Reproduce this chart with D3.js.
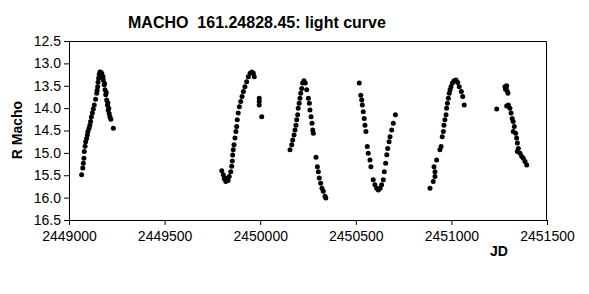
<!DOCTYPE html>
<html>
<head>
<meta charset="utf-8">
<script src="https://cdn.jsdelivr.net/npm/d3@7"></script>
<style>
	body { margin: 0; background: #fff; }
	svg { font-family: "Liberation Sans", Arial, sans-serif; }
</style>
</head>
<body>
<div id="chart"></div>
<script>
const chartTitle = 'MACHO  161.24828.45: light curve';
const xTicks = [2449000, 2449500, 2450000, 2450500, 2451000, 2451500];
const yTicks = [12.5, 13.0, 13.5, 14.0, 14.5, 15.0, 15.5, 16.0, 16.5];

// [JD, R mag], one array per observing season
const season1 = [
	[2449066, 15.49], [2449072, 15.34], [2449075, 15.23], [2449078, 15.12], [2449080, 14.97],
	[2449084, 14.85], [2449087, 14.75], [2449092, 14.68], [2449096, 14.60], [2449099, 14.52],
	[2449105, 14.45], [2449109, 14.38], [2449113, 14.30], [2449117, 14.20], [2449122, 14.11],
	[2449127, 14.02], [2449132, 13.93], [2449139, 13.80], [2449145, 13.67], [2449147, 13.60],
	[2449150, 13.52], [2449152, 13.42], [2449155, 13.33], [2449158, 13.25], [2449162, 13.19],
	[2449166, 13.20], [2449171, 13.22], [2449175, 13.28], [2449179, 13.37], [2449184, 13.48],
	[2449188, 13.59], [2449192, 13.70], [2449197, 13.82], [2449201, 13.93], [2449205, 14.04],
	[2449210, 14.12], [2449214, 14.19], [2449219, 14.25], [2449232, 14.45],
	[2449178, 13.30], [2449186, 13.45], [2449195, 13.65], [2449203, 13.88], [2449208, 14.00]
];
const season2 = [
	[2449799, 15.40], [2449807, 15.49], [2449812, 15.58], [2449816, 15.56], [2449820, 15.64],
	[2449825, 15.62], [2449828, 15.60], [2449832, 15.62], [2449838, 15.53], [2449846, 15.42],
	[2449851, 15.30], [2449854, 15.18], [2449856, 15.05], [2449859, 14.93], [2449863, 14.82],
	[2449868, 14.67], [2449873, 14.52], [2449877, 14.41], [2449880, 14.26], [2449885, 14.11],
	[2449891, 13.97], [2449898, 13.85], [2449905, 13.74], [2449912, 13.63], [2449920, 13.52],
	[2449929, 13.41], [2449938, 13.30], [2449947, 13.22], [2449956, 13.19], [2449964, 13.22],
	[2449969, 13.30], [2449995, 13.78], [2449995, 13.85], [2449995, 13.93], [2450008, 14.19]
];
const season3 = [
	[2450156, 14.93], [2450165, 14.82], [2450170, 14.71], [2450177, 14.60], [2450182, 14.49],
	[2450187, 14.38], [2450191, 14.26], [2450196, 14.15], [2450199, 14.00], [2450204, 13.89],
	[2450208, 13.78], [2450212, 13.67], [2450217, 13.56], [2450222, 13.44], [2450229, 13.39],
	[2450236, 13.44], [2450243, 13.59], [2450252, 13.78], [2450257, 13.89], [2450260, 14.04],
	[2450266, 14.19], [2450271, 14.34], [2450275, 14.49], [2450278, 14.56],
	[2450292, 15.10], [2450299, 15.31], [2450304, 15.42], [2450309, 15.56], [2450316, 15.68],
	[2450323, 15.79], [2450330, 15.86], [2450339, 15.97], [2450343, 16.01]
];
const season4 = [
	[2450518, 13.44], [2450526, 13.71], [2450531, 13.82], [2450534, 13.93], [2450539, 14.08],
	[2450544, 14.23], [2450548, 14.38], [2450553, 14.52], [2450560, 14.86], [2450565, 15.01],
	[2450574, 15.16], [2450579, 15.31], [2450591, 15.60], [2450600, 15.71], [2450609, 15.79],
	[2450618, 15.83], [2450627, 15.79], [2450635, 15.71], [2450644, 15.60], [2450649, 15.42],
	[2450656, 15.23], [2450662, 15.04], [2450667, 14.90], [2450674, 14.75], [2450679, 14.64],
	[2450688, 14.49], [2450696, 14.34], [2450707, 14.15]
];
const season5 = [
	[2450888, 15.79], [2450905, 15.64], [2450909, 15.31], [2450914, 15.53], [2450914, 15.42],
	[2450923, 15.16], [2450940, 14.93], [2450946, 14.86], [2450952, 14.64], [2450958, 14.52],
	[2450961, 14.38], [2450966, 14.26], [2450972, 14.15], [2450975, 14.00], [2450979, 13.89],
	[2450984, 13.78], [2450989, 13.67], [2450993, 13.59], [2450998, 13.52], [2451005, 13.44],
	[2451014, 13.39], [2451024, 13.37], [2451033, 13.43], [2451041, 13.52], [2451052, 13.63],
	[2451059, 13.74], [2451067, 13.93]
];
const season6 = [
	[2451237, 14.02], [2451280, 13.52], [2451283, 13.58], [2451286, 13.56], [2451289, 13.50],
	[2451292, 13.62], [2451296, 13.67], [2451289, 13.95], [2451298, 13.93], [2451306, 14.00],
	[2451312, 14.11], [2451318, 14.23], [2451323, 14.30], [2451329, 14.41], [2451323, 14.52],
	[2451336, 14.56], [2451341, 14.67], [2451345, 14.78], [2451350, 14.90], [2451345, 14.97],
	[2451359, 15.01], [2451368, 15.08], [2451376, 15.12], [2451385, 15.19], [2451394, 15.27]
];
const points = [season1, season2, season3, season4, season5, season6].flat();

const W = 589, H = 294;
const margin = { top: 41, right: 42, bottom: 74, left: 69 },
	width = W - margin.left - margin.right,
	height = H - margin.top - margin.bottom;

const svg = d3.select('#chart')
	.append('svg')
	.attr('width', W)
	.attr('height', H);

const g = svg.append('g')
	.attr('transform', 'translate(' + margin.left + ',' + margin.top + ')');

const x = d3.scaleLinear()
	.domain([2449000, 2451500])
	.range([0, width]);

const y = d3.scaleLinear()
	.domain([12.5, 16.5])
	.range([0, height]);

// plot frame (top and right)
g.append('path')
	.attr('d', `M0,0.5H${width - 0.5}V${height}`)
	.attr('fill', 'none')
	.attr('stroke', '#000')
	.attr('stroke-width', 1);

// x axis
const xAxis = g.append('g')
	.attr('transform', 'translate(0,' + height + ')')
	.call(d3.axisBottom(x).tickValues(xTicks).tickFormat(d3.format('d')).tickSizeOuter(0).tickSize(5).tickPadding(6));

// y axis
const yAxis = g.append('g')
	.call(d3.axisLeft(y).tickValues(yTicks).tickFormat(d3.format('.1f')).tickSizeOuter(0).tickSize(5).tickPadding(3));

[xAxis, yAxis].forEach(a => {
	a.selectAll('text').attr('font-size', 14).attr('fill', '#000')
		.attr('font-family', '"Liberation Sans", Arial, sans-serif');
	a.selectAll('line, path').attr('stroke', '#000');
});

// points
g.append('g')
	.selectAll('circle')
	.data(points)
	.join('circle')
	.attr('cx', d => x(d[0]))
	.attr('cy', d => y(d[1]))
	.attr('r', 2.5)
	.attr('fill', '#000');

// titles
svg.append('text')
	.attr('x', 128)
	.attr('y', 28)
	.attr('font-size', 16)
	.attr('font-weight', 'bold')
	.style('white-space', 'pre')
	.attr('xml:space', 'preserve')
	.text(chartTitle);

svg.append('text')
	.attr('transform', 'translate(22,130) rotate(-90)')
	.attr('text-anchor', 'middle')
	.attr('font-size', 14)
	.attr('font-weight', 'bold')
	.text('R Macho');

svg.append('text')
	.attr('x', 490)
	.attr('y', 256)
	.attr('font-size', 14)
	.attr('font-weight', 'bold')
	.text('JD');
</script>
</body>
</html>
